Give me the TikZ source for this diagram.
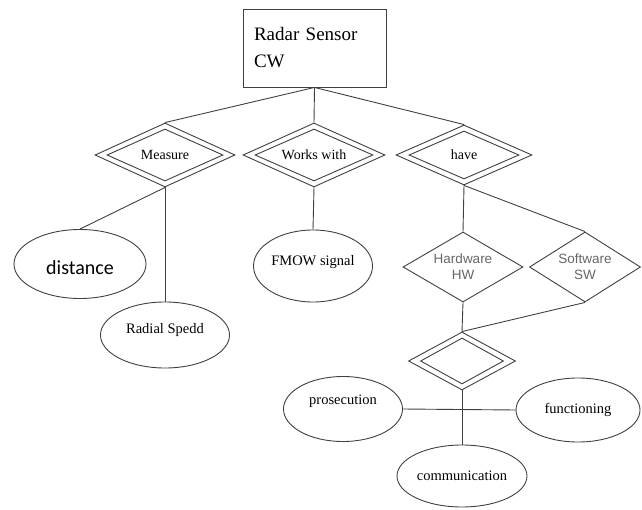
\documentclass[tikz,border=0pt]{standalone}
\usepackage{fontspec}
\setmainfont{Liberation Serif}
\newfontfamily\carlito{Carlito}
\newfontfamily\arialish{Liberation Sans}
\usetikzlibrary{shapes.geometric}
\tikzset{
  ln/.style={draw=black!75, line width=0.9pt},
  dia/.style={diamond, ln, inner sep=0pt, aspect=2, font=\fontsize{14}{16}\selectfont},
  innerdia/.style={diamond, ln, inner sep=0pt, aspect=2},
  swdia/.style={diamond, ln, inner sep=0pt, aspect=2, text=black!60, font=\arialish\fontsize{13.5}{16}\selectfont, align=center},
  ell/.style={ellipse, ln, inner sep=0pt, font=\fontsize{14.5}{17}\selectfont},
  conn/.style={draw=black!75, line width=0.9pt},
}
\begin{document}
\begin{tikzpicture}[x=1pt,y=-1pt]
\useasboundingbox (0,0) rectangle (642,510);

% top entity
\node[ln, minimum width=143pt, minimum height=78pt, text width=121pt, align=left,
      inner xsep=11pt, font=\fontsize{19}{27}\selectfont] (radar) at (314.5,48) {Radar Sensor\\CW};

% relationship diamonds (double)
\node[dia, minimum width=140pt, minimum height=64pt] (measure) at (165,155) {Measure};
\node[innerdia, minimum width=116pt, minimum height=52pt] (measureI) at (165,155) {};
\node[dia, minimum width=142pt, minimum height=64pt] (works) at (314,155) {Works with};
\node[innerdia, minimum width=118pt, minimum height=52pt] (worksI) at (314,155) {};
\node[dia, minimum width=136pt, minimum height=60pt] (have) at (464,155) {have};
\node[innerdia, minimum width=110pt, minimum height=48pt] (haveI) at (464,155) {};
\node[dia, minimum width=107pt, minimum height=58pt] (bottom) at (462,361) {};
\node[innerdia, minimum width=83pt, minimum height=46pt] (bottomI) at (462,361) {};

% hardware / software
\node[swdia, minimum width=120pt, minimum height=70pt] (hw) at (463,267) {Hardware\\HW};
\node[swdia, minimum width=111pt, minimum height=70pt] (sw) at (585,267) {Software\\SW};

% attributes
\node[ell, minimum width=132pt, minimum height=69pt, font=\carlito\fontsize{20}{22}\selectfont] (distance) at (80,264) {\raisebox{-4pt}[\height][\depth]{distance}};
\node[ell, minimum width=129pt, minimum height=66pt] (radial) at (165,335) {\raisebox{5pt}[\height][\depth]{Radial Spedd}};
\node[ell, minimum width=119pt, minimum height=72pt] (fmow) at (313,266) {\raisebox{4pt}[\height][\depth]{FMOW signal}};
\node[ell, minimum width=119pt, minimum height=65pt] (prosec) at (343,409) {\raisebox{8pt}[\height][\depth]{prosecution}};
\node[ell, minimum width=124pt, minimum height=64pt] (func) at (578,410) {\makebox[0pt]{functioning}};
\node[ell, minimum width=130pt, minimum height=62pt] (comm) at (462,476) {\makebox[0pt]{communication}};

% connectors
\draw[conn] (radar.south) -- (measure.north);
\draw[conn] (radar.south) -- (works.north);
\draw[conn] (radar.south) -- (have.north);
\draw[conn] (measure.south) -- (distance.north);
\draw[conn] (measure.south) -- (radial.north);
\draw[conn] (works.south) -- (fmow.north);
\draw[conn] (have.south) -- (hw.north);
\draw[conn] (have.south) -- (sw.north);
\draw[conn] (hw.south) -- (bottom.north);
\draw[conn] (sw.south) -- (bottom.north);
\draw[conn] (bottom.south) -- (comm.north);
\draw[conn] (prosec.east) -- (func.west);
\end{tikzpicture}
\end{document}
